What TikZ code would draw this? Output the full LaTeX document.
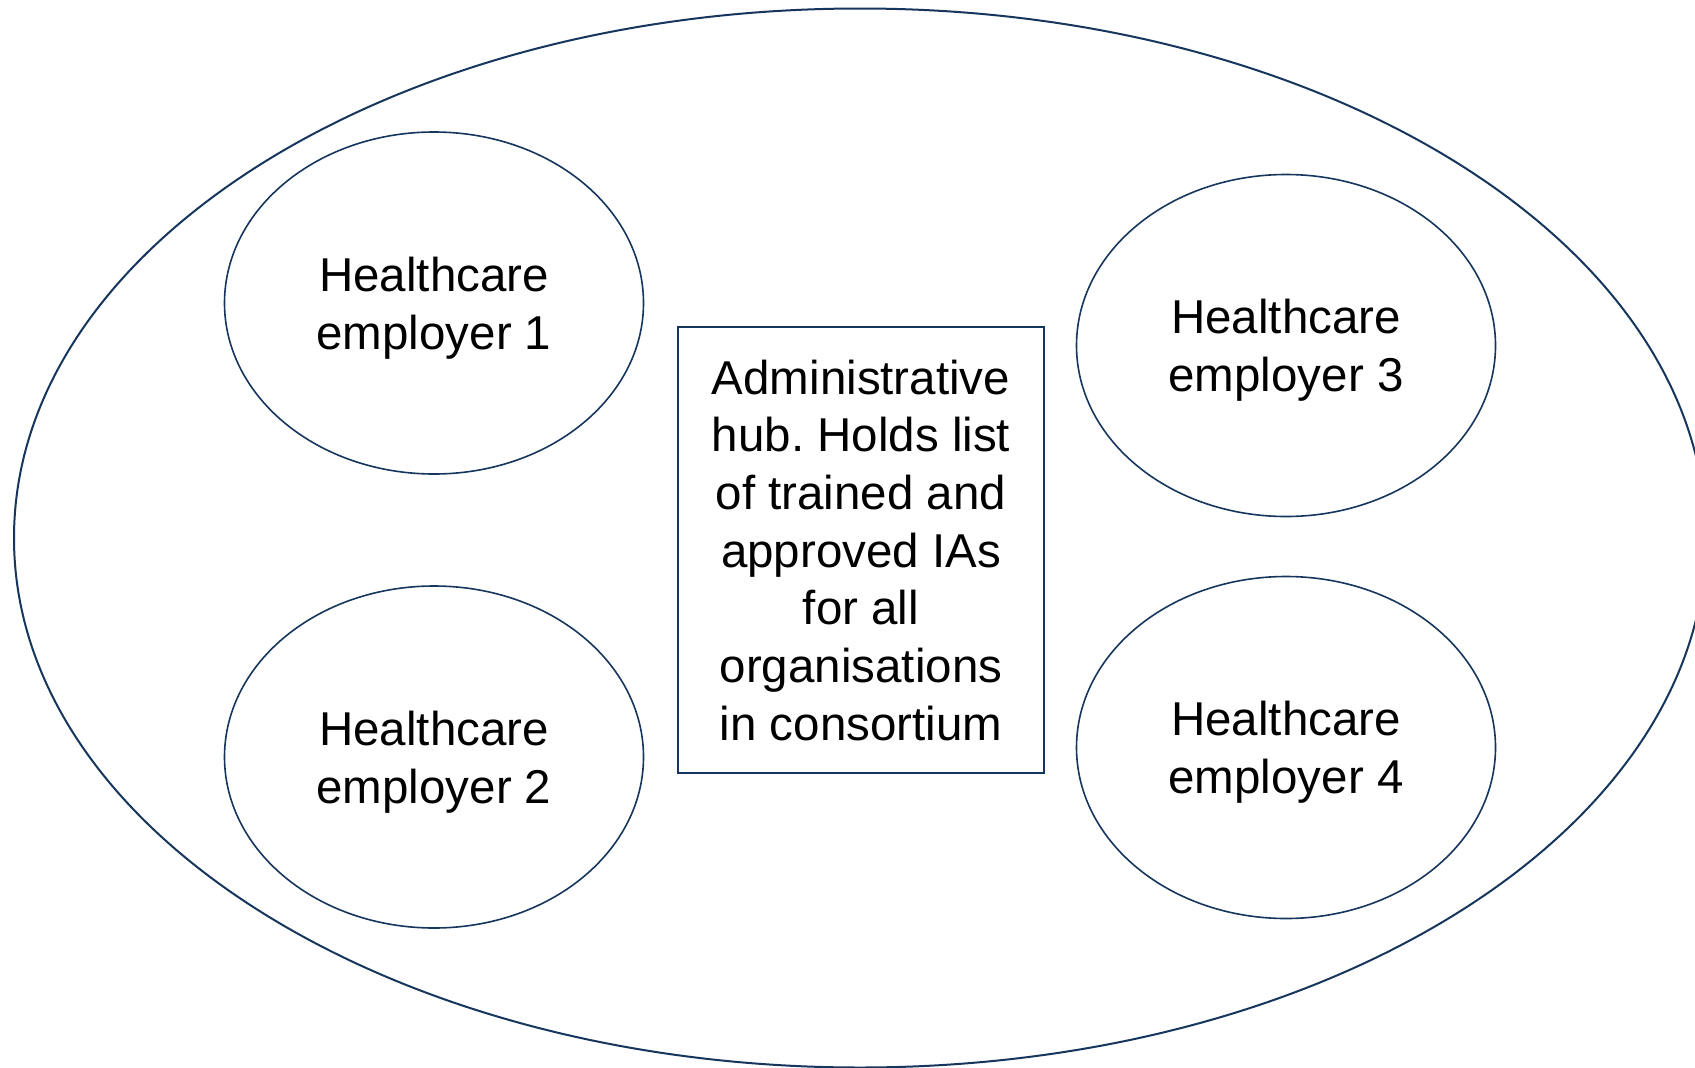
\documentclass[tikz,border=0pt]{standalone}
\usepackage{fontspec}
\setmainfont{Liberation Sans}
\usetikzlibrary{shapes.geometric}
\definecolor{navy}{HTML}{17365D}
\frenchspacing
\tikzset{
  outerring/.style={ellipse, draw=navy, line width=2pt, inner sep=0pt,
    minimum width=1692pt, minimum height=1059pt},
  employer/.style={ellipse, draw=navy, line width=1.6pt, inner sep=0pt,
    minimum width=419pt, minimum height=342pt, align=center, text depth=0pt,
    font=\fontsize{47.5}{57.7}\selectfont},
  hubbox/.style={rectangle, draw=navy, line width=1.8pt, inner sep=0pt,
    minimum width=366pt, minimum height=446pt, align=center, text depth=0pt,
    font=\fontsize{47.5}{57.7}\selectfont}
}
\begin{document}
\begin{tikzpicture}[x=1pt,y=-1pt]
\useasboundingbox (0,0) rectangle (1695,1068);
\clip (0,0) rectangle (1695,1068);
\fill[white] (0,0) rectangle (1695,1068);
\node[outerring] (outer) at (860,538) {};
\node[employer] (e1) at (434,303) {Healthcare\\employer 1};
\node[employer] (e2) at (434,757) {Healthcare\\employer 2};
\node[employer] (e3) at (1286,345.5) {Healthcare\\employer 3};
\node[employer] (e4) at (1286,747.5) {Healthcare\\employer 4};
\node[hubbox] (hub) at (861,550) {Administrative\\hub. Holds list\\of trained and\\approved IAs\\for all\\organisations\\in consortium};
\end{tikzpicture}
\end{document}
